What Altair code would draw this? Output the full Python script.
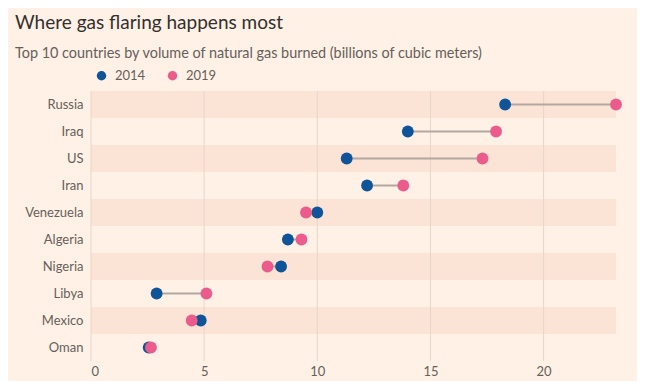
import altair as alt
import pandas as pd

countries = ["Russia", "Iraq", "US", "Iran", "Venezuela", "Algeria", "Nigeria", "Libya", "Mexico", "Oman"]
v2014 = [18.3, 14.0, 11.3, 12.2, 10.0, 8.7, 8.4, 2.9, 4.85, 2.55]
v2019 = [23.2, 17.9, 17.3, 13.8, 9.5, 9.3, 7.8, 5.1, 4.45, 2.65]
shaded = ["Russia", "US", "Venezuela", "Nigeria", "Mexico"]
ticks = [0, 5, 10, 15, 20]
years = ["2014", "2019"]
year_colors = ["#0f5499", "#eb5c8c"]

W, H = 525, 270
BG = "#fff1e5"
FONT = "Lato"

wide = pd.DataFrame({"country": countries, "a": v2014, "b": v2019})
long = pd.concat([
    pd.DataFrame({"country": countries, "value": v2014, "year": years[0]}),
    pd.DataFrame({"country": countries, "value": v2019, "year": years[1]}),
])
bands = pd.DataFrame({"country": shaded})
grid = pd.DataFrame({"t": ticks})

xscale = alt.Scale(domain=[0, 23.2], nice=False, zero=True)
yscale = alt.Scale(domain=countries, paddingInner=0, paddingOuter=0)

band_layer = alt.Chart(bands).mark_rect(color="#fbe3d5").encode(
    y=alt.Y("country:N", scale=yscale, sort=countries,
            axis=alt.Axis(title=None, domain=False, ticks=False, tickSize=0,
                          labelPadding=8, labelFontSize=13, labelColor="#66605c",
                          labelFont=FONT)),
    x=alt.value(0), x2=alt.value(W),
)

grid_layer = alt.Chart(grid).mark_rule(color="#e6d6ca", strokeWidth=1).encode(
    x=alt.X("t:Q", scale=xscale,
            axis=alt.Axis(title=None, values=ticks, grid=False, domain=False, ticks=False,
                          tickSize=0, labelPadding=4, labelFontSize=13,
                          labelColor="#66605c", labelFont=FONT)),
    y=alt.value(0), y2=alt.value(H),
)

conn = alt.Chart(wide).mark_rule(color="#b3a8a0", strokeWidth=2).encode(
    y=alt.Y("country:N", scale=yscale, sort=countries),
    x=alt.X("a:Q", scale=xscale),
    x2="b:Q",
)

pts = alt.Chart(long).mark_circle(size=140, opacity=1).encode(
    y=alt.Y("country:N", scale=yscale, sort=countries),
    x=alt.X("value:Q", scale=xscale),
    color=alt.Color("year:N", scale=alt.Scale(domain=years, range=year_colors),
                    legend=alt.Legend(title=None, orient="none", legendX=4, legendY=-22,
                                      direction="horizontal", symbolType="circle",
                                      symbolSize=90, labelFontSize=13, labelColor="#66605c",
                                      labelFont=FONT, columnPadding=20, labelOffset=7,
                                      padding=0)),
    order=alt.Order("year:N"),
)

chart = alt.layer(band_layer, grid_layer, conn, pts).properties(
    width=W, height=H,
    title=alt.Title(
        "Where gas flaring happens most",
        subtitle="Top 10 countries by volume of natural gas burned (billions of cubic meters)",
        anchor="start", frame="group", dx=-76, offset=9,
        font=FONT, fontSize=19, fontWeight="normal", color="#33302e",
        subtitleFont=FONT, subtitleFontSize=14.4, subtitleColor="#66605c",
        subtitlePadding=14,
    ),
    autosize=alt.AutoSizeParams(type="none"),
    padding={"left": 83, "top": 83, "right": 21, "bottom": 20},
    background=BG,
).configure_view(stroke=None).resolve_scale(y="shared", x="shared")

chart.save("out.html", embed_options={"renderer": "svg", "actions": False})
